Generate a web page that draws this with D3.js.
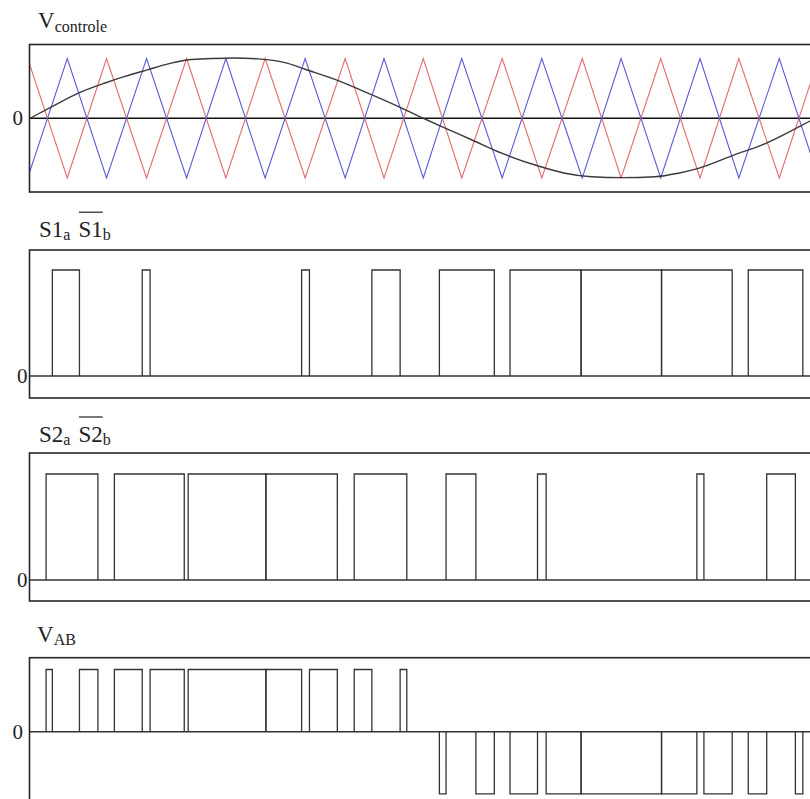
<!DOCTYPE html>
<html><head><meta charset="utf-8">
<script src="https://cdn.jsdelivr.net/npm/d3@7/dist/d3.min.js"></script>
<style>body{margin:0;background:#fff} svg{display:block}</style>
</head><body>
<svg id="c" width="810" height="799"></svg>
<script>
// ---- data (time in ms, one 50 Hz period) ----
const carrierTimes = [-0.06,0.95,1.95,2.97,3.99,4.99,5.99,7.01,8.03,9.02,10.02,11.00,12.03,13.04,14.07,15.06,16.07,17.07,18.06,19.09,20.09];
const redCarrier   = [1,-1,1,-1,1,-1,1,-1,1,-1,1,-1,1,-1,1,-1,1,-1,1,-1,1];
const blueCarrier  = [-1,1,-1,1,-1,1,-1,1,-1,1,-1,1,-1,1,-1,1,-1,1,-1,1,-1];
const sineTimes  = [0,0.55,1.23,1.91,2.42,2.99,3.52,4.03,4.63,5.2,5.81,6.57,7.01,7.77,8.61,9.47,10.02,10.49,11.25,12.02,12.95,13.63,14.31,15.1,15.92,16.52,17.03,17.96,18.64,19.57,20];
const sineValues = [0,0.19,0.42,0.59,0.70,0.81,0.91,0.98,1.0,1.01,0.995,0.92,0.82,0.65,0.42,0.17,0,-0.14,-0.36,-0.585,-0.80,-0.92,-0.98,-0.995,-0.98,-0.92,-0.84,-0.61,-0.45,-0.15,0];
const s1Starts = [0.57,2.86,6.92,8.71,10.43,12.23,14.04,16.09,18.30];
const s1Ends   = [1.26,3.06,7.12,9.43,11.83,14.04,16.09,17.89,19.69];
const s2Starts = [0.41,2.15,4.03,6.01,8.26,10.60,12.93,16.99,18.77];
const s2Ends   = [1.73,3.93,6.01,7.83,9.60,11.36,13.15,17.17,19.50];
const vabStarts = [0.41,1.26,2.15,3.06,4.03,6.01,7.12,8.26,9.43,10.43,11.36,12.23,13.15,14.04,16.09,17.17,18.30,19.50];
const vabEnds   = [0.57,1.73,2.86,3.93,6.01,6.92,7.83,8.71,9.60,10.60,11.83,12.93,14.04,16.09,16.99,17.89,18.77,19.69];
const vabLevels = [1,1,1,1,1,1,1,1,1,-1,-1,-1,-1,-1,-1,-1,-1,-1];
const yTickValues = [0];
const labelV = [["V",0],["controle",1]];
const labelS1 = [["S1",0],["a",1],["S1",0,1],["b",1]];
const labelS2 = [["S2",0],["a",1],["S2",0,1],["b",1]];
const labelVAB = [["V",0],["AB",1]];

// ---- layout ----
const svg = d3.select("#c");
const FONT = "'Liberation Serif','Times New Roman',serif";
const x = d3.scaleLinear().domain([0,20]).range([30,815]);
const X0 = 29.5, X1 = 860;

function panel(top, bottom, domain, zeroLabelX) {
  const y = d3.scaleLinear().domain(domain).range([bottom, top]);
  const g = svg.append("g");
  const defsId = "clip" + Math.round(top);
  svg.append("clipPath").attr("id", defsId).append("rect")
    .attr("x", X0).attr("y", top).attr("width", X1 - X0).attr("height", bottom - top);
  const plot = g.append("g").attr("clip-path", `url(#${defsId})`);
  g.append("rect").attr("x", X0).attr("y", top).attr("width", X1 - X0).attr("height", bottom - top)
    .attr("fill", "none").attr("stroke", "#262626").attr("stroke-width", 1.6);
  const ax = g.append("g").attr("transform", `translate(${X0},0)`)
    .call(d3.axisLeft(y).tickValues(yTickValues).tickSize(0).tickPadding(X0 - zeroLabelX).tickFormat(d3.format("d")));
  ax.select(".domain").remove();
  ax.selectAll("text").attr("font-family", FONT).attr("font-size", 21).attr("fill", "#222");
  return {g, plot, y};
}

function label(x0, base, parts) {
  let cx = x0;
  parts.forEach((p, i) => {
    if (i > 0 && !p[1]) cx += 8;
    const t = svg.append("text").attr("x", cx).attr("y", p[1] ? base + 3.5 : base)
      .attr("font-family", FONT).attr("font-size", p[1] ? 16 : 23).attr("fill", "#222").text(p[0]);
    const w = t.node().getComputedTextLength();
    if (p[2]) {
      svg.append("line").attr("x1", cx + 0.5).attr("x2", cx + w).attr("y1", base - 24.5).attr("y2", base - 24.5)
        .attr("stroke", "#222").attr("stroke-width", 1.2);
    }
    cx += w;
  });
}

// Panel 1
const p1 = panel(44.5, 192, [-1.235, 1.235], 23);
p1.plot.append("line").attr("x1", X0).attr("x2", X1).attr("y1", p1.y(0)).attr("y2", p1.y(0))
  .attr("stroke", "#111").attr("stroke-width", 1.4);
const carrierLine = vals => d3.line().x((d, i) => x(carrierTimes[i])).y(d => p1.y(d))(vals);
p1.plot.append("path").attr("d", carrierLine(redCarrier)).attr("fill", "none").attr("stroke", "#e36b6b").attr("stroke-width", 1.1);
p1.plot.append("path").attr("d", carrierLine(blueCarrier)).attr("fill", "none").attr("stroke", "#5c5cd8").attr("stroke-width", 1.1);
p1.plot.append("path")
  .attr("d", d3.line().curve(d3.curveMonotoneX).x((d, i) => x(sineTimes[i])).y(d => p1.y(d))(sineValues))
  .attr("fill", "none").attr("stroke", "#3a3a3a").attr("stroke-width", 1.4);
label(38, 28.3, labelV);

function pulses(p, starts, ends, levels) {
  p.plot.append("line").attr("x1", X0).attr("x2", X1).attr("y1", p.y(0)).attr("y2", p.y(0))
    .attr("stroke", "#333").attr("stroke-width", 1.4);
  const line = d3.line().x(d => x(d[0])).y(d => p.y(d[1]));
  starts.forEach((s, i) => {
    const e = ends[i], v = levels ? levels[i] : 1;
    p.plot.append("path").attr("d", line([[s, 0], [s, v], [e, v], [e, 0]]))
      .attr("fill", "none").attr("stroke", "#333").attr("stroke-width", 1.3);
  });
}

// Panel 2
const p2 = panel(250, 398, [-0.208, 1.189], 27.5);
pulses(p2, s1Starts, s1Ends);
label(39, 236.7, labelS1);

// Panel 3
const p3 = panel(453, 601, [-0.198, 1.198], 27.5);
pulses(p3, s2Starts, s2Ends);
label(39, 441.5, labelS2);

// Panel 4
const p4 = panel(657.7, 805.7, [-1.19, 1.19], 23);
pulses(p4, vabStarts, vabEnds, vabLevels);
label(37, 641.7, labelVAB);
</script>
</body></html>
